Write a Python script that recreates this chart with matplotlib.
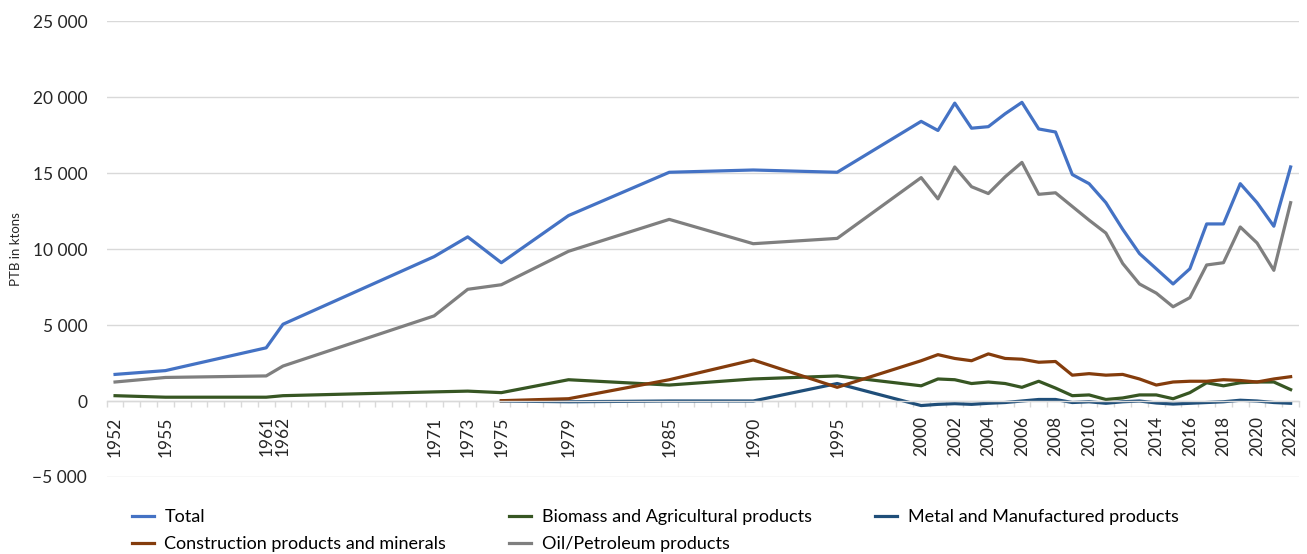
import numpy as np
import matplotlib.pyplot as plt
from matplotlib.ticker import FuncFormatter

plt.rcParams['font.family'] = ['Lato', 'DejaVu Sans']

# years with data
years = [1952, 1955, 1961, 1962, 1971, 1973, 1975, 1979, 1985, 1990, 1995] + list(range(2000, 2023))
label_years = [1952, 1955, 1961, 1962, 1971, 1973, 1975, 1979, 1985, 1990, 1995] + list(range(2000, 2023, 2))

nan = np.nan
total = [1750, 2000, 3500, 5050, 9500, 10800, 9100, 12200, 15050, 15200, 15050,
         18400, 17800, 19600, 17950, 18050, 18900, 19650, 17900, 17700, 14900,
         14300, 13050, 11300, 9700, 8700, 7700, 8700, 11650, 11650, 14300,
         13050, 11500, 15400]
biomass = [350, 250, 250, 350, 600, 650, 550, 1400, 1050, 1450, 1650,
           1000, 1450, 1400, 1150, 1250, 1150, 900, 1300, 850, 350,
           400, 100, 200, 400, 400, 150, 550, 1200, 1000, 1200,
           1250, 1250, 750]
metal = [nan, nan, nan, nan, nan, nan, 0, -50, 0, 0, 1150,
         -300, -220, -175, -220, -150, -100, 0, 100, 100, -100,
         -50, -150, -50, 0, -130, -200, -150, -100, -50, 50,
         0, -100, -150]
construction = [nan, nan, nan, nan, nan, nan, 20, 150, 1400, 2700, 900,
                2650, 3050, 2800, 2650, 3100, 2800, 2750, 2550, 2600, 1700,
                1800, 1700, 1750, 1450, 1050, 1250, 1300, 1300, 1400, 1350,
                1250, 1450, 1600]
oil = [1250, 1550, 1650, 2300, 5600, 7350, 7650, 9850, 11950, 10350, 10700,
       14700, 13300, 15400, 14100, 13650, 14750, 15700, 13600, 13700, 12800,
       11900, 11050, 9050, 7700, 7100, 6200, 6800, 8950, 9100, 11450,
       10400, 8600, 13050]

fig = plt.figure(figsize=(13.07, 5.54), dpi=100)
ax = fig.add_axes([0.0816, 0.139, 0.9123, 0.823])

lw = 2.3
l_total, = ax.plot(years, total, color='#4472C4', lw=lw, label='Total')
l_bio, = ax.plot(years, biomass, color='#375623', lw=lw, label='Biomass and Agricultural products')
l_metal, = ax.plot(years, metal, color='#1F4E79', lw=lw, label='Metal and Manufactured products')
l_con, = ax.plot(years, construction, color='#843C0C', lw=lw, label='Construction products and minerals')
l_oil, = ax.plot(years, oil, color='#7F7F7F', lw=lw, label='Oil/Petroleum products')

ax.set_xlim(1951.5, 2022.5)
ax.set_ylim(-5000, 25000)
ax.set_yticks(range(-5000, 25001, 5000))
ax.yaxis.set_major_formatter(FuncFormatter(
    lambda v, p: ('\u2212' if v < 0 else '') + f"{abs(int(v)):,}".replace(',', ' ')))
ax.grid(axis='y', color='#D9D9D9', lw=1)
ax.set_axisbelow(True)

for s in ['top', 'left', 'right']:
    ax.spines[s].set_visible(False)
ax.spines['bottom'].set_position(('data', 0))
ax.spines['bottom'].set_color('#D9D9D9')
ax.spines['bottom'].set_linewidth(1)

ax.set_xticks(label_years)
ax.set_xticklabels([str(y) for y in label_years], rotation=90, fontsize=12.5, color='#262626')
ax.set_xticks(np.arange(1951.5, 2023, 1), minor=True)
ax.tick_params(axis='x', which='major', length=0, pad=11)
ax.tick_params(axis='x', which='minor', length=4.5, color='#D9D9D9', width=1)
ax.tick_params(axis='y', length=0, pad=14, labelsize=12.5, labelcolor='#262626')

ax.set_ylabel('PTB in ktons', fontsize=9.5, color='#262626')
ax.yaxis.set_label_coords(-0.071, 0.5)

# legend: column-wise order so rows read Total/Biomass/Metal, Construction/Oil
fig.legend(handles=[l_total, l_con, l_bio, l_oil, l_metal], ncol=3,
           loc='upper left', bbox_to_anchor=(0.094, 1 - 500 / 554),
           bbox_transform=fig.transFigure, frameon=False, fontsize=13,
           handlelength=1.2, handletextpad=0.6, columnspacing=3.5,
           labelspacing=0.6, borderpad=0)

fig.savefig('out.png', dpi=100)
